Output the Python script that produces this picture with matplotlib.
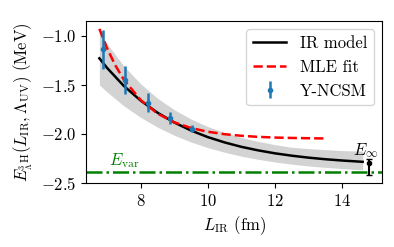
import numpy as np
import matplotlib
matplotlib.use('Agg')
import matplotlib.pyplot as plt

plt.rcParams['font.family'] = 'serif'
plt.rcParams['font.serif'] = ['cmr10']
plt.rcParams['mathtext.fontset'] = 'cm'
plt.rcParams['axes.formatter.use_mathtext'] = True
plt.rcParams['axes.unicode_minus'] = False
plt.rcParams['font.size'] = 12
plt.rcParams['lines.linewidth'] = 1.8

# IR model curve and its band
L_model = [6.77, 7.0, 7.5, 8.0, 8.5, 9.0, 9.5, 10.0, 10.5, 11.0, 11.5, 12.0, 12.5, 13.0, 13.5, 14.0, 14.6]
E_model = [-1.23, -1.328, -1.512, -1.661, -1.784, -1.884, -1.966, -2.033, -2.087, -2.132,
           -2.168, -2.198, -2.222, -2.242, -2.258, -2.271, -2.284]
band_hi = [-0.96, -1.083, -1.309, -1.490, -1.637, -1.754, -1.849, -1.926, -1.987, -2.037,
           -2.077, -2.110, -2.136, -2.150, -2.160, -2.170, -2.175]
band_lo = [-1.50, -1.573, -1.715, -1.832, -1.931, -2.014, -2.083, -2.140, -2.187, -2.227,
           -2.259, -2.286, -2.308, -2.327, -2.341, -2.353, -2.366]

# MLE fit
L_mle = [6.77, 7.0, 7.25, 7.5, 8.0, 8.5, 9.0, 9.5, 10.0, 10.5, 11.0, 11.5, 12.0, 12.5, 13.0, 13.45]
E_mle = [-0.93, -1.129, -1.305, -1.448, -1.656, -1.793, -1.882, -1.940, -1.978, -2.003,
         -2.019, -2.030, -2.037, -2.041, -2.044, -2.046]

# Y-NCSM points
L_ncsm = [6.87, 7.53, 8.21, 8.86, 9.53]
E_ncsm = [-1.14, -1.45, -1.68, -1.84, -1.945]
err_ncsm = [0.20, 0.14, 0.095, 0.06, 0.035]

# extrapolated and variational energies
L_inf = 14.78
E_inf = -2.30
E_inf_err = [[0.12], [0.04]]
E_var = -2.388

fig = plt.figure(figsize=(3.94, 2.47), dpi=100)
ax = fig.add_axes([0.218, 0.259, 0.752, 0.656])

ax.fill_between(L_model, band_lo, band_hi, color='lightgray', lw=0)
ax.plot(L_model, E_model, color='black', label='IR model')
ax.plot(L_mle, E_mle, '--', color='red', label='MLE fit')
ax.errorbar(L_ncsm, E_ncsm, yerr=err_ncsm, fmt='.', color='C0', label='Y-NCSM')
ax.axhline(E_var, color='green', ls='-.')
ax.errorbar([L_inf], [E_inf], yerr=E_inf_err, fmt='.', color='black', capsize=2.5, lw=1.5)

ax.text(7.05, -2.32, r'$E_\mathrm{var}$', color='green')
ax.text(14.3, -2.22, r'$E_\infty$', color='black')

ax.set_ylim(-2.5, -0.85)
ax.set_yticks([-1.0, -1.5, -2.0, -2.5])
ax.set_xticks([8, 10, 12, 14])
ax.set_xlabel(r'$L_\mathrm{IR}$ (fm)')
ax.set_ylabel(r'$E_{{}^{3}_{\Lambda}\mathrm{H}}(L_\mathrm{IR},\Lambda_\mathrm{UV})$ (MeV)')
ax.legend(loc='upper right')

fig.savefig('out.png', dpi=100)
